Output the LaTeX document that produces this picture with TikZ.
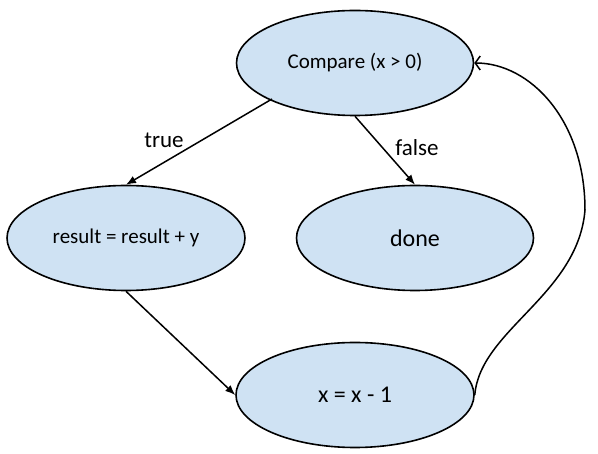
\documentclass[tikz,border=0pt]{standalone}
\usepackage{fontspec}
\setmainfont{Carlito}
\usetikzlibrary{arrows.meta,shapes.geometric}
\definecolor{nodefill}{RGB}{207,226,243}
\begin{document}
\begin{tikzpicture}[x=1pt,y=-1pt,
  state/.style={ellipse,draw=black,line width=1.6pt,fill=nodefill,minimum width=#1,minimum height=105pt,inner sep=0pt},
  state/.default=237pt,
  flow/.style={line width=1.5pt,-{Latex[length=10pt,width=8pt]}},
  lbl/.style={font=\fontsize{23}{26}\selectfont}]
\useasboundingbox (0,0) rectangle (598,454);
\node[state] (cmp) at (355,63) {\fontsize{21}{24}\selectfont Compare (x > 0)};
\node[state=238pt] (res) at (126,238) {\fontsize{21}{24}\selectfont result = result + y};
\node[state] (done) at (415,238) {\fontsize{24}{27}\selectfont done};
\node[state=238pt] (x1) at (355,395) {\fontsize{24}{27}\selectfont x = x - 1};
\draw[flow] (272,99) -- (res.north);
\node[lbl] (t) at (164,140) {true};
\draw[flow] (cmp.south) -- (done.north);
\node[lbl] (f) at (417,148) {false};
\draw[flow] (res.south) -- (x1.west);
\coordinate (mid) at (585,210);
\draw[line width=1.5pt,-{Straight Barb[length=5pt,width=14pt]}] (x1.east) .. controls (480,330) and (578,295) .. (mid) .. controls (585,120) and (530,63) .. (cmp.east);
\end{tikzpicture}
\end{document}
